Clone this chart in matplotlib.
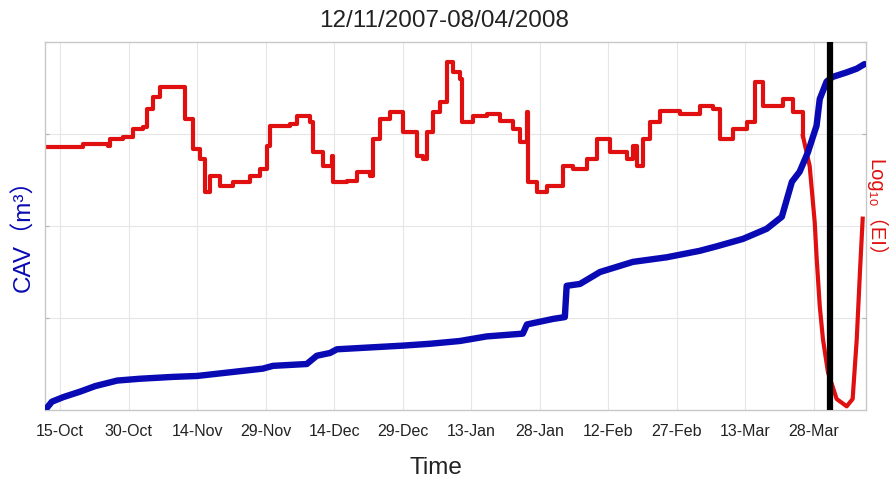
import datetime as dt
import matplotlib
matplotlib.use("Agg")
import matplotlib.pyplot as plt

# ---- data -------------------------------------------------------------
start = dt.datetime(2007, 10, 15)

# cumulative acoustic volume (days after 15-Oct, value on 0-4 scale)
cav_day = [-3.1, -1.8, 0.7, 4.4, 7.7, 12.5, 17.5, 24.7, 30.0, 37.2, 44.4, 46.6,
           54.0, 56.2, 59.1, 60.6, 67.8, 75.1, 81.0, 87.5, 93.4, 101.3, 102.2,
           107.9, 110.5, 110.9, 113.8, 118.2, 125.4, 132.8, 140.0, 143.8, 149.5,
           154.7, 158.0, 159.1, 160.2, 161.9, 163.7, 165.6, 166.3, 167.8, 169.1,
           172.2, 174.4, 176.1]
cav_val = [0.01, 0.09, 0.14, 0.20, 0.26, 0.32, 0.34, 0.36, 0.37, 0.41, 0.45, 0.48,
           0.50, 0.59, 0.62, 0.66, 0.68, 0.70, 0.72, 0.75, 0.80, 0.83, 0.93,
           0.99, 1.01, 1.35, 1.37, 1.50, 1.61, 1.66, 1.73, 1.78, 1.86,
           1.97, 2.10, 2.29, 2.48, 2.59, 2.80, 3.09, 3.38, 3.57, 3.62,
           3.67, 3.71, 3.76]

# log10 of the energy index
ei_day = [-3.3, 5.0, 10.5, 10.9, 13.8, 16.0, 18.2, 19.0, 20.4, 21.9, 26.9, 27.4,
          29.1, 30.6, 31.7, 32.8, 35.0, 37.9, 41.6, 43.8, 45.3, 46.0, 50.3, 51.9,
          54.7, 55.4, 57.5, 59.5, 59.7, 62.8, 65.0, 67.8, 68.5, 70.0, 72.2, 75.1,
          78.1, 79.4, 80.3, 81.6, 83.2, 84.7, 86.0, 87.5, 88.0, 90.4, 93.4, 96.3,
          99.1, 100.7, 102.2, 102.4, 104.4, 106.6, 110.1, 112.3, 115.3, 117.5,
          120.4, 124.1, 125.4, 126.3, 127.6, 129.1, 131.3, 135.7, 140.0, 142.9,
          144.4, 147.3, 150.3, 152.1, 153.8, 158.2, 160.4, 162.6, 164.1, 165.2,
          165.6, 166.3, 167.0, 168.1, 170.0, 172.2, 173.5, 174.4, 175.1, 175.7]
ei_val = [2.86, 2.89, 2.87, 2.95, 2.97, 3.05, 3.08, 3.27, 3.40, 3.51, 3.51, 3.16,
          2.84, 2.73, 2.37, 2.54, 2.43, 2.48, 2.54, 2.62, 2.87, 3.09, 3.11, 3.20,
          3.13, 2.80, 2.65, 2.76, 2.48, 2.49, 2.59, 2.54, 2.95, 3.16, 3.24, 3.02,
          2.76, 2.73, 3.02, 3.24, 3.35, 3.78, 3.67, 3.60, 3.13, 3.20, 3.22, 3.14,
          3.05, 2.91, 3.24, 2.48, 2.37, 2.43, 2.65, 2.62, 2.73, 2.95,
          2.80, 2.73, 2.87, 2.65, 2.95, 3.13, 3.25, 3.22, 3.30, 3.27,
          2.95, 3.05, 3.13, 3.57, 3.30, 3.38, 3.24, 2.98, 2.65, 2.04,
          1.67, 1.13, 0.77, 0.41, 0.12, 0.04, 0.12, 0.77, 1.50, 2.08]

event_day = 168.5      # eruption marker
smooth_from = 162.6    # after this day the EI record is drawn as a continuous curve
tick_labels = ["15-Oct", "30-Oct", "14-Nov", "29-Nov", "14-Dec", "29-Dec",
               "13-Jan", "28-Jan", "12-Feb", "27-Feb", "13-Mar", "28-Mar"]
tick_day = [0, 15, 30, 45, 60, 75, 90, 105, 120, 135, 150, 165]
x_range = (-3.3, 176.4)
y_range = (0, 4)

# ---- helpers ----------------------------------------------------------
def to_dates(days):
    return [start + dt.timedelta(days=d) for d in days]

BLUE = "#0a0ab4"
RED = "#e01010"
base_font = "Liberation Sans"
mixed = ["Liberation Sans", "DejaVu Sans", "Noto Sans CJK SC"]

# ---- figure -----------------------------------------------------------
fig = plt.figure(figsize=(8.89, 4.81), dpi=100)
ax = fig.add_axes([0.0506, 0.1455, 0.9234, 0.7651])

k = ei_day.index(smooth_from)
ei_dates = to_dates(ei_day)
ax.plot(ei_dates[:k + 1], ei_val[:k + 1], color=RED, lw=3.0,
        drawstyle="steps-post", zorder=2)
ax.plot(ei_dates[k:], ei_val[k:], color=RED, lw=3.0, zorder=2)
ax.plot(to_dates(cav_day), cav_val, color=BLUE, lw=4.6, zorder=3,
        solid_capstyle="round")
ax.axvline(start + dt.timedelta(days=event_day), color="black", lw=4.5, zorder=4)

ax.set_xlim(*to_dates(x_range))
ax.set_ylim(*y_range)
ax.set_xticks(to_dates(tick_day))
ax.set_xticklabels(tick_labels, fontfamily=base_font, fontsize=11.5,
                   color="#222222")
ax.set_yticks([1, 2, 3])
ax.set_yticklabels([])
ax.tick_params(axis="x", length=0, pad=9)
ax.tick_params(axis="y", direction="in", length=3, color="#b0b0b0")
ax.grid(True, color="#e6e6e6", lw=0.8)
ax.set_axisbelow(True)
for s in ax.spines.values():
    s.set_color("#c8c8c8")
    s.set_linewidth(1.0)

ax2 = ax.twinx()
ax2.set_ylim(*y_range)
ax2.set_yticks([1, 3])
ax2.set_yticklabels([])
ax2.tick_params(axis="y", direction="in", length=3, color="#b0b0b0")
for s in ax2.spines.values():
    s.set_visible(False)

fig.text(0.5, 0.956, "12/11/2007-08/04/2008", ha="center", va="center",
         fontsize=17.5, family=base_font, color="#222222")
fig.text(0.49, 0.027, "Time", ha="center", va="center", fontsize=17.5,
         family=base_font, color="#222222")
fig.text(0.027, 0.522, "CAV（m³）", rotation=90, ha="center", va="center",
         fontsize=17.5, color=BLUE, family=mixed)
fig.text(0.9855, 0.557, "Log₁₀（EI）", rotation=-90, ha="center", va="center",
         fontsize=14.5, color=RED, family=mixed)

fig.savefig("out.png", dpi=100)
